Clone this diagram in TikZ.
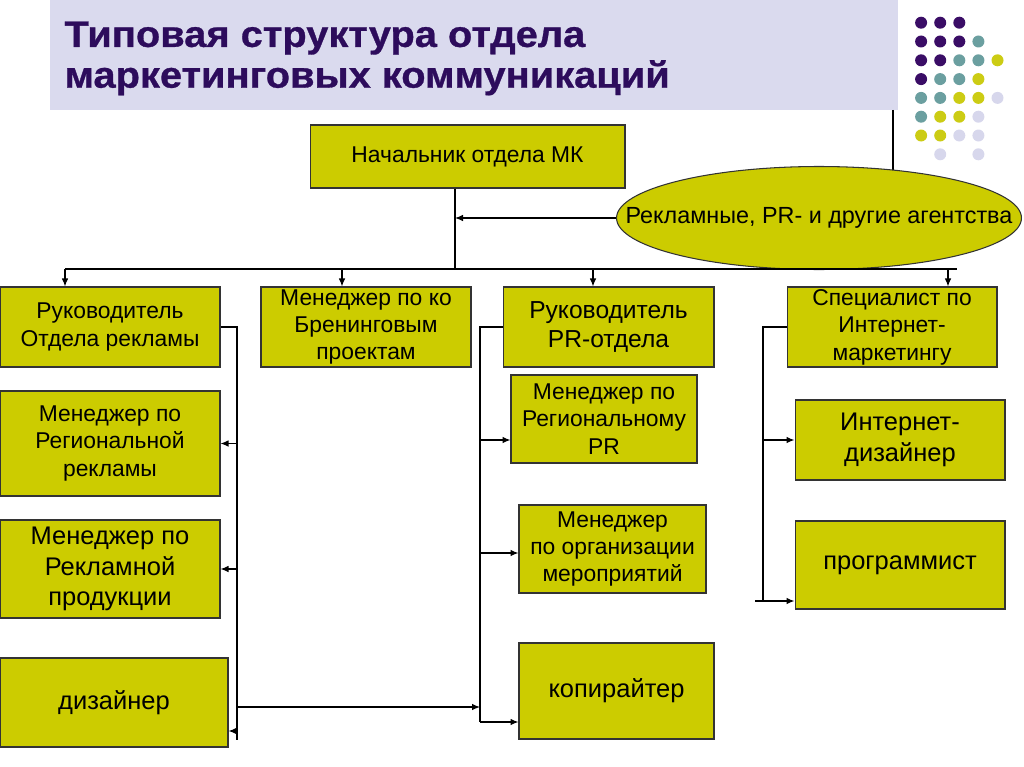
\documentclass[tikz,border=0pt]{standalone}
\usepackage{fontspec}
\setmainfont{Liberation Sans}
\newfontfamily\titlefont[FakeStretch=1.08,FakeBold=0.8]{Liberation Sans}
\usetikzlibrary{arrows.meta,shapes.geometric}
\definecolor{boxfill}{RGB}{204,204,0}
\definecolor{bandfill}{RGB}{218,218,238}
\definecolor{titleink}{RGB}{45,12,92}
\definecolor{dotP}{RGB}{58,13,102}
\definecolor{dotT}{RGB}{107,159,160}
\definecolor{dotY}{RGB}{204,204,20}
\definecolor{dotL}{RGB}{215,215,236}

\begin{document}
\begin{tikzpicture}[x=0.02cm,y=-0.02cm,line width=0.6pt,
    box/.style = {draw=black!80, fill=boxfill, align=center, inner sep=1pt,
        font=\fontsize{13}{15.6}\selectfont},
    bigbox/.style = {box, font=\fontsize{14.5}{17.5}\selectfont},
    agency/.style = {ellipse, draw=black!80, fill=boxfill, inner sep=0pt,
        font=\fontsize{13.3}{15.6}\selectfont},
    arr/.style = {-{Latex[length=1.6mm,width=1.3mm]}}]
    \useasboundingbox (0,0) rectangle (1024,767);

    \fill[bandfill] (50,0) rectangle (898,110);
    \node[anchor=north west, inner sep=0pt, align=left, text=titleink,
        font=\titlefont\bfseries\fontsize{21}{23.2}\selectfont] (title) at (64,21)
        {Типовая структура отдела\\маркетинговых коммуникаций};

    \foreach \c/\r/\col in {1/1/dotP,2/1/dotP,3/1/dotP,
        1/2/dotP,2/2/dotP,3/2/dotP,4/2/dotT,
        1/3/dotP,2/3/dotP,3/3/dotT,4/3/dotT,5/3/dotY,
        1/4/dotP,2/4/dotT,3/4/dotT,4/4/dotY,
        1/5/dotT,2/5/dotT,3/5/dotY,4/5/dotY,5/5/dotL,
        1/6/dotT,2/6/dotY,3/6/dotY,4/6/dotL,
        1/7/dotY,2/7/dotY,3/7/dotL,4/7/dotL,
        2/8/dotL,4/8/dotL}
        \fill[\col] (902+19.1*\c, 3.9+18.8*\r) circle[radius=6];

    \node[box, minimum width=6.3cm, minimum height=1.26cm] (chief) at (467.5,156.5) {Начальник отдела МК};
    \coordinate (tb) at (893,110);
    \draw (tb) -- (tb |- 0,175);
    \node[agency, minimum width=8.1cm, minimum height=2.06cm] (agency) at (819,218)
        {\makebox[0pt]{Рекламные, PR- и другие агентства}};

    \node[box, minimum width=4.4cm, minimum height=1.6cm] (adhead) at (110,327) {Руководитель\\Отдела рекламы};
    \node[box, minimum width=4.2cm, minimum height=1.6cm] (brand) at (366,327) {Менеджер по ко\\Бренинговым\\проектам};
    \node[box, minimum width=4.22cm, minimum height=1.6cm, font=\fontsize{14}{17}\selectfont] (prhead) at (608.5,327) {Руководитель\\PR-отдела};
    \node[box, minimum width=4.2cm, minimum height=1.6cm] (webhead) at (892,327) {Специалист по\\Интернет-\\маркетингу};

    \node[box, minimum width=4.4cm, minimum height=2.1cm] (regad) at (110,443.5) {Менеджер по\\Региональной\\рекламы};
    \node[bigbox, minimum width=4.4cm, minimum height=1.96cm] (prod) at (110,569) {Менеджер по\\Рекламной\\продукции};
    \node[bigbox, minimum width=4.56cm, minimum height=1.78cm] (designer) at (114,702.5) {дизайнер};

    \node[box, minimum width=3.72cm, minimum height=1.76cm] (regpr) at (604,419) {Менеджер по\\Региональному\\PR};
    \node[box, minimum width=3.74cm, minimum height=1.76cm] (events) at (612.5,549) {Менеджер\\по организации\\мероприятий};
    \node[bigbox, minimum width=3.9cm, minimum height=1.92cm] (copy) at (616.5,691) {копирайтер};

    \node[bigbox, minimum width=4.2cm, minimum height=1.6cm] (webdes) at (900,440) {Интернет-\\дизайнер};
    \node[bigbox, minimum width=4.2cm, minimum height=1.76cm] (coder) at (900,565) {программист};

    \coordinate (j) at (455,269);
    \coordinate (busL) at (65,269);
    \coordinate (busR) at (957,269);
    \coordinate (b2) at (342,269);
    \coordinate (b3) at (593,269);
    \coordinate (b4) at (948,269);
    \coordinate (lbot) at (237,740);
    \coordinate (pbot) at (480,722);
    \coordinate (wbot) at (763,601);
    \coordinate (d1) at (237,731);
    \coordinate (d2) at (237,707);
    \coordinate (p1) at (480,440);
    \coordinate (p2) at (480,553);
    \coordinate (w2) at (755,601);

    \draw (j |- chief.south) -- (j);
    \draw[arr] (agency.west) -- (agency.west -| j);
    \draw (busL) -- (busR);
    \draw[arr] (busL) -- (busL |- adhead.north);
    \draw[arr] (b2) -- (b2 |- brand.north);
    \draw[arr] (b3) -- (b3 |- prhead.north);
    \draw[arr] (b4) -- (b4 |- webhead.north);

    \draw (adhead.east) -| (lbot);
    \draw[arr] (lbot |- regad.east) -- (regad.east);
    \draw[arr] (lbot |- prod.east) -- (prod.east);
    \draw[arr] (d1) -- (d1 -| designer.east);
    \draw[arr] (d2) -- (d2 -| pbot);

    \draw (prhead.west) -| (pbot);
    \draw[arr] (p1) -- (p1 -| regpr.west);
    \draw[arr] (p2) -- (p2 -| events.west);
    \draw[arr] (pbot) -- (pbot -| copy.west);

    \draw (webhead.west) -| (wbot);
    \draw[arr] (wbot |- webdes.west) -- (webdes.west);
    \draw[arr] (w2) -- (w2 -| coder.west);
\end{tikzpicture}
\end{document}
